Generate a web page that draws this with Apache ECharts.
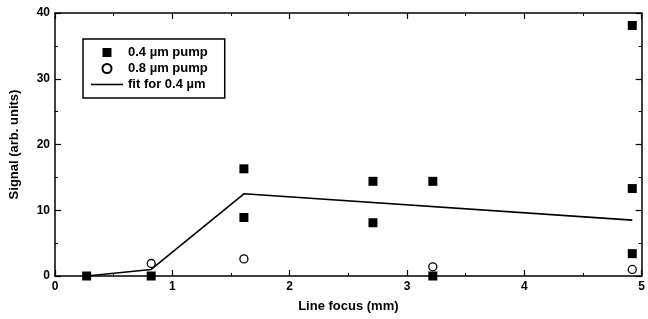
<!DOCTYPE html>
<html>
  <head>
    <meta charset="UTF-8" />
    <title>Signal vs line focus</title>
    <script src="https://cdn.jsdelivr.net/npm/echarts@6.0.0/dist/echarts.min.js"></script>
  </head>
  <body style="margin:0">
    <div id="chart" style="width: 648px; height: 319px"></div>
  </body>
  <script>
// 0.4 um pump (filled squares)
let pump04X = [0.27, 0.82, 1.61, 1.61, 2.71, 2.71, 3.22, 3.22, 4.92, 4.92, 4.92];
let pump04Y = [0, 0, 16.3, 8.9, 14.4, 8.1, 14.4, 0, 38.1, 13.3, 3.4];
// 0.8 um pump (open circles)
let pump08X = [0.82, 1.61, 3.22, 4.92];
let pump08Y = [1.9, 2.6, 1.4, 1.0];
// fit for 0.4 um
let fitX = [0.27, 0.82, 1.61, 4.92];
let fitY = [0, 1.0, 12.5, 8.5];

let font = 'Liberation Sans';
let zip = (xs, ys) => xs.map((x, i) => [x, ys[i]]);

let myChart = echarts.init(document.getElementById('chart'));

let textStyle = { color: '#000', fontFamily: font, fontWeight: 'bold', fontSize: 12 };
let baseAxis = {
  type: 'value',
  axisLine: { show: true, onZero: false, lineStyle: { color: '#000', width: 1.5 } },
  axisTick: { show: true, inside: true, length: 6, lineStyle: { color: '#000', width: 1.2 } },
  minorTick: { show: true, splitNumber: 2, length: 3, lineStyle: { color: '#000', width: 1 } },
  splitLine: { show: false },
  axisLabel: Object.assign({ margin: 5 }, textStyle)
};

myChart.setOption({
  animation: false,
  grid: { left: 54, right: 6, top: 13, bottom: 43 },
  legend: {
    orient: 'vertical',
    left: 83,
    top: 39,
    padding: [7, 17, 7, 8],
    itemGap: 3,
    itemWidth: 32,
    itemHeight: 9,
    symbolKeepAspect: true,
    borderColor: '#000',
    borderWidth: 1.5,
    textStyle: { color: '#000', fontFamily: font, fontWeight: 'bold', fontSize: 13 },
    data: [
      { name: '0.4 µm pump', icon: 'path://M0,0h10v10h-10z' },
      { name: '0.8 µm pump', icon: 'circle' },
      { name: 'fit for 0.4 µm', icon: 'path://M0,0h32v1.6h-32z' }
    ]
  },
  xAxis: [
    Object.assign({}, baseAxis, {
      min: 0, max: 5, interval: 1,
      name: 'Line focus (mm)',
      nameLocation: 'middle',
      nameGap: 24,
      nameTextStyle: Object.assign({}, textStyle, { fontSize: 13 })
    }),
    Object.assign({}, baseAxis, {
      position: 'top', min: 0, max: 5, interval: 1,
      axisLabel: { show: false }
    })
  ],
  yAxis: [
    Object.assign({}, baseAxis, {
      min: 0, max: 40, interval: 10,
      name: 'Signal (arb. units)',
      nameLocation: 'middle',
      nameGap: 34,
      nameTextStyle: Object.assign({}, textStyle, { fontSize: 13 })
    }),
    Object.assign({}, baseAxis, {
      position: 'right', min: 0, max: 40, interval: 10,
      axisLabel: { show: false }
    })
  ],
  series: [
    {
      name: 'fit for 0.4 µm',
      type: 'line',
      symbol: 'none',
      data: zip(fitX, fitY),
      lineStyle: { color: '#000', width: 1.6 },
      itemStyle: { color: '#000' },
      z: 2
    },
    {
      name: '0.8 µm pump',
      type: 'scatter',
      symbol: 'circle',
      symbolSize: 8,
      data: zip(pump08X, pump08Y),
      itemStyle: { color: '#fff', borderColor: '#000', borderWidth: 1.3, opacity: 1 },
      z: 3
    },
    {
      name: '0.4 µm pump',
      type: 'scatter',
      symbol: 'rect',
      symbolSize: 9,
      data: zip(pump04X, pump04Y),
      itemStyle: { color: '#000', opacity: 1 },
      z: 4
    }
  ]
});
  </script>
</html>
